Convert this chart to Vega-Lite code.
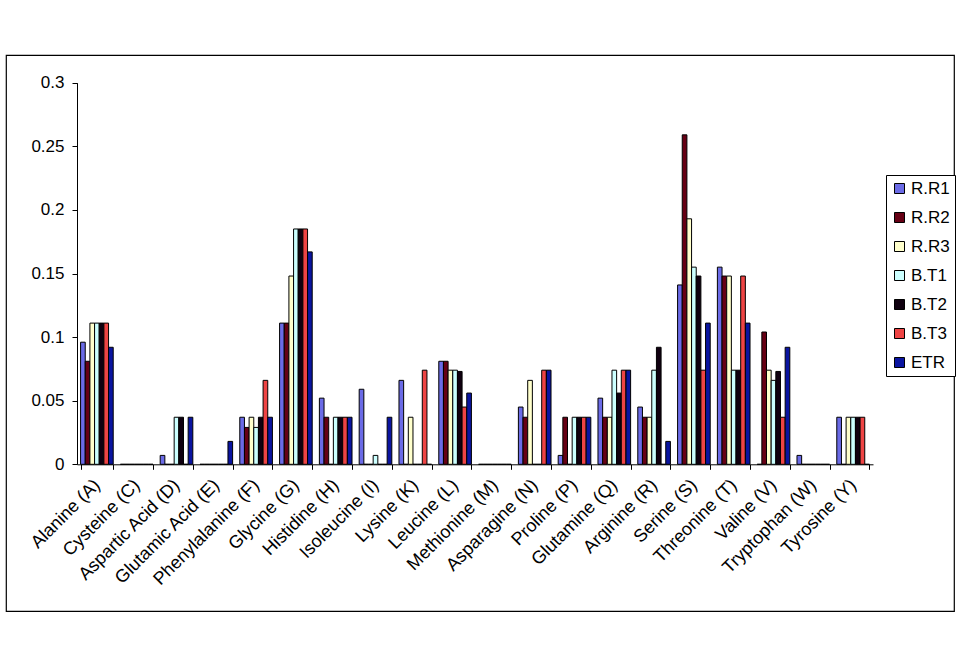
{
  "$schema": "https://vega.github.io/schema/vega-lite/v6.json",
  "autosize": "none",
  "width": 948,
  "height": 556,
  "padding": {"left": 6, "top": 55, "right": 8, "bottom": 56},
  "background": "white",
  "config": {
    "view": {"stroke": "black", "strokeWidth": 1.2},
    "font": "Liberation Sans",
    "axis": {"grid": false, "domainColor": "black", "tickColor": "black", "labelColor": "black", "labelFont": "Liberation Sans", "labelFontSize": 17, "tickSize": 5, "domainWidth": 1, "tickWidth": 1}
  },
  "data": {"values": [
    {"aa": "Alanine (A)", "s": "R.R1", "v": 0.096}, {"aa": "Alanine (A)", "s": "R.R2", "v": 0.081}, {"aa": "Alanine (A)", "s": "R.R3", "v": 0.111}, {"aa": "Alanine (A)", "s": "B.T1", "v": 0.111}, {"aa": "Alanine (A)", "s": "B.T2", "v": 0.111}, {"aa": "Alanine (A)", "s": "B.T3", "v": 0.111}, {"aa": "Alanine (A)", "s": "ETR", "v": 0.092},
    {"aa": "Cysteine (C)", "s": "R.R1", "v": 0}, {"aa": "Cysteine (C)", "s": "R.R2", "v": 0}, {"aa": "Cysteine (C)", "s": "R.R3", "v": 0}, {"aa": "Cysteine (C)", "s": "B.T1", "v": 0}, {"aa": "Cysteine (C)", "s": "B.T2", "v": 0}, {"aa": "Cysteine (C)", "s": "B.T3", "v": 0}, {"aa": "Cysteine (C)", "s": "ETR", "v": 0},
    {"aa": "Aspartic Acid (D)", "s": "R.R1", "v": 0.007}, {"aa": "Aspartic Acid (D)", "s": "R.R2", "v": 0}, {"aa": "Aspartic Acid (D)", "s": "R.R3", "v": 0}, {"aa": "Aspartic Acid (D)", "s": "B.T1", "v": 0.037}, {"aa": "Aspartic Acid (D)", "s": "B.T2", "v": 0.037}, {"aa": "Aspartic Acid (D)", "s": "B.T3", "v": 0}, {"aa": "Aspartic Acid (D)", "s": "ETR", "v": 0.037},
    {"aa": "Glutamic Acid (E)", "s": "R.R1", "v": 0}, {"aa": "Glutamic Acid (E)", "s": "R.R2", "v": 0}, {"aa": "Glutamic Acid (E)", "s": "R.R3", "v": 0}, {"aa": "Glutamic Acid (E)", "s": "B.T1", "v": 0}, {"aa": "Glutamic Acid (E)", "s": "B.T2", "v": 0}, {"aa": "Glutamic Acid (E)", "s": "B.T3", "v": 0}, {"aa": "Glutamic Acid (E)", "s": "ETR", "v": 0.018},
    {"aa": "Phenylalanine (F)", "s": "R.R1", "v": 0.037}, {"aa": "Phenylalanine (F)", "s": "R.R2", "v": 0.029}, {"aa": "Phenylalanine (F)", "s": "R.R3", "v": 0.037}, {"aa": "Phenylalanine (F)", "s": "B.T1", "v": 0.029}, {"aa": "Phenylalanine (F)", "s": "B.T2", "v": 0.037}, {"aa": "Phenylalanine (F)", "s": "B.T3", "v": 0.066}, {"aa": "Phenylalanine (F)", "s": "ETR", "v": 0.037},
    {"aa": "Glycine (G)", "s": "R.R1", "v": 0.111}, {"aa": "Glycine (G)", "s": "R.R2", "v": 0.111}, {"aa": "Glycine (G)", "s": "R.R3", "v": 0.148}, {"aa": "Glycine (G)", "s": "B.T1", "v": 0.185}, {"aa": "Glycine (G)", "s": "B.T2", "v": 0.185}, {"aa": "Glycine (G)", "s": "B.T3", "v": 0.185}, {"aa": "Glycine (G)", "s": "ETR", "v": 0.167},
    {"aa": "Histidine (H)", "s": "R.R1", "v": 0.052}, {"aa": "Histidine (H)", "s": "R.R2", "v": 0.037}, {"aa": "Histidine (H)", "s": "R.R3", "v": 0}, {"aa": "Histidine (H)", "s": "B.T1", "v": 0.037}, {"aa": "Histidine (H)", "s": "B.T2", "v": 0.037}, {"aa": "Histidine (H)", "s": "B.T3", "v": 0.037}, {"aa": "Histidine (H)", "s": "ETR", "v": 0.037},
    {"aa": "Isoleucine (I)", "s": "R.R1", "v": 0.059}, {"aa": "Isoleucine (I)", "s": "R.R2", "v": 0}, {"aa": "Isoleucine (I)", "s": "R.R3", "v": 0}, {"aa": "Isoleucine (I)", "s": "B.T1", "v": 0.007}, {"aa": "Isoleucine (I)", "s": "B.T2", "v": 0}, {"aa": "Isoleucine (I)", "s": "B.T3", "v": 0}, {"aa": "Isoleucine (I)", "s": "ETR", "v": 0.037},
    {"aa": "Lysine (K)", "s": "R.R1", "v": 0.066}, {"aa": "Lysine (K)", "s": "R.R2", "v": 0}, {"aa": "Lysine (K)", "s": "R.R3", "v": 0.037}, {"aa": "Lysine (K)", "s": "B.T1", "v": 0}, {"aa": "Lysine (K)", "s": "B.T2", "v": 0}, {"aa": "Lysine (K)", "s": "B.T3", "v": 0.074}, {"aa": "Lysine (K)", "s": "ETR", "v": 0},
    {"aa": "Leucine (L)", "s": "R.R1", "v": 0.081}, {"aa": "Leucine (L)", "s": "R.R2", "v": 0.081}, {"aa": "Leucine (L)", "s": "R.R3", "v": 0.074}, {"aa": "Leucine (L)", "s": "B.T1", "v": 0.074}, {"aa": "Leucine (L)", "s": "B.T2", "v": 0.073}, {"aa": "Leucine (L)", "s": "B.T3", "v": 0.045}, {"aa": "Leucine (L)", "s": "ETR", "v": 0.056},
    {"aa": "Methionine (M)", "s": "R.R1", "v": 0}, {"aa": "Methionine (M)", "s": "R.R2", "v": 0}, {"aa": "Methionine (M)", "s": "R.R3", "v": 0}, {"aa": "Methionine (M)", "s": "B.T1", "v": 0}, {"aa": "Methionine (M)", "s": "B.T2", "v": 0}, {"aa": "Methionine (M)", "s": "B.T3", "v": 0}, {"aa": "Methionine (M)", "s": "ETR", "v": 0},
    {"aa": "Asparagine (N)", "s": "R.R1", "v": 0.045}, {"aa": "Asparagine (N)", "s": "R.R2", "v": 0.037}, {"aa": "Asparagine (N)", "s": "R.R3", "v": 0.066}, {"aa": "Asparagine (N)", "s": "B.T1", "v": 0}, {"aa": "Asparagine (N)", "s": "B.T2", "v": 0}, {"aa": "Asparagine (N)", "s": "B.T3", "v": 0.074}, {"aa": "Asparagine (N)", "s": "ETR", "v": 0.074},
    {"aa": "Proline (P)", "s": "R.R1", "v": 0.007}, {"aa": "Proline (P)", "s": "R.R2", "v": 0.037}, {"aa": "Proline (P)", "s": "R.R3", "v": 0}, {"aa": "Proline (P)", "s": "B.T1", "v": 0.037}, {"aa": "Proline (P)", "s": "B.T2", "v": 0.037}, {"aa": "Proline (P)", "s": "B.T3", "v": 0.037}, {"aa": "Proline (P)", "s": "ETR", "v": 0.037},
    {"aa": "Glutamine (Q)", "s": "R.R1", "v": 0.052}, {"aa": "Glutamine (Q)", "s": "R.R2", "v": 0.037}, {"aa": "Glutamine (Q)", "s": "R.R3", "v": 0.037}, {"aa": "Glutamine (Q)", "s": "B.T1", "v": 0.074}, {"aa": "Glutamine (Q)", "s": "B.T2", "v": 0.056}, {"aa": "Glutamine (Q)", "s": "B.T3", "v": 0.074}, {"aa": "Glutamine (Q)", "s": "ETR", "v": 0.074},
    {"aa": "Arginine (R)", "s": "R.R1", "v": 0.045}, {"aa": "Arginine (R)", "s": "R.R2", "v": 0.037}, {"aa": "Arginine (R)", "s": "R.R3", "v": 0.037}, {"aa": "Arginine (R)", "s": "B.T1", "v": 0.074}, {"aa": "Arginine (R)", "s": "B.T2", "v": 0.092}, {"aa": "Arginine (R)", "s": "B.T3", "v": 0}, {"aa": "Arginine (R)", "s": "ETR", "v": 0.018},
    {"aa": "Serine (S)", "s": "R.R1", "v": 0.141}, {"aa": "Serine (S)", "s": "R.R2", "v": 0.259}, {"aa": "Serine (S)", "s": "R.R3", "v": 0.193}, {"aa": "Serine (S)", "s": "B.T1", "v": 0.155}, {"aa": "Serine (S)", "s": "B.T2", "v": 0.148}, {"aa": "Serine (S)", "s": "B.T3", "v": 0.074}, {"aa": "Serine (S)", "s": "ETR", "v": 0.111},
    {"aa": "Threonine (T)", "s": "R.R1", "v": 0.155}, {"aa": "Threonine (T)", "s": "R.R2", "v": 0.148}, {"aa": "Threonine (T)", "s": "R.R3", "v": 0.148}, {"aa": "Threonine (T)", "s": "B.T1", "v": 0.074}, {"aa": "Threonine (T)", "s": "B.T2", "v": 0.074}, {"aa": "Threonine (T)", "s": "B.T3", "v": 0.148}, {"aa": "Threonine (T)", "s": "ETR", "v": 0.111},
    {"aa": "Valine (V)", "s": "R.R1", "v": 0}, {"aa": "Valine (V)", "s": "R.R2", "v": 0.104}, {"aa": "Valine (V)", "s": "R.R3", "v": 0.074}, {"aa": "Valine (V)", "s": "B.T1", "v": 0.066}, {"aa": "Valine (V)", "s": "B.T2", "v": 0.073}, {"aa": "Valine (V)", "s": "B.T3", "v": 0.037}, {"aa": "Valine (V)", "s": "ETR", "v": 0.092},
    {"aa": "Tryptophan (W)", "s": "R.R1", "v": 0.007}, {"aa": "Tryptophan (W)", "s": "R.R2", "v": 0}, {"aa": "Tryptophan (W)", "s": "R.R3", "v": 0}, {"aa": "Tryptophan (W)", "s": "B.T1", "v": 0}, {"aa": "Tryptophan (W)", "s": "B.T2", "v": 0}, {"aa": "Tryptophan (W)", "s": "B.T3", "v": 0}, {"aa": "Tryptophan (W)", "s": "ETR", "v": 0},
    {"aa": "Tyrosine (Y)", "s": "R.R1", "v": 0.037}, {"aa": "Tyrosine (Y)", "s": "R.R2", "v": 0}, {"aa": "Tyrosine (Y)", "s": "R.R3", "v": 0.037}, {"aa": "Tyrosine (Y)", "s": "B.T1", "v": 0.037}, {"aa": "Tyrosine (Y)", "s": "B.T2", "v": 0.037}, {"aa": "Tyrosine (Y)", "s": "B.T3", "v": 0.037}, {"aa": "Tyrosine (Y)", "s": "ETR", "v": 0}
  ]},
  "mark": {"type": "bar", "stroke": "black", "strokeWidth": 1},
  "encoding": {
    "x": {
      "field": "aa", "type": "nominal", "sort": null, "title": null,
      "scale": {"range": [71, 867], "paddingInner": 0.18, "paddingOuter": 0.09},
      "axis": {"orient": "bottom", "offset": -146.7, "labelAngle": -45, "labelAlign": "right", "labelBaseline": "middle", "labelPadding": 13, "labelFontSize": 18, "tickBand": "extent", "labelLimit": 300}
    },
    "xOffset": {
      "field": "s", "type": "nominal",
      "sort": ["R.R1", "R.R2", "R.R3", "B.T1", "B.T2", "B.T3", "ETR"],
      "scale": {"paddingInner": 0, "paddingOuter": 0}
    },
    "y": {
      "field": "v", "type": "quantitative", "title": null,
      "scale": {"domain": [0, 0.3], "range": [409.3, 27.7], "nice": false, "zero": true},
      "axis": {"orient": "left", "offset": -71, "values": [0, 0.05, 0.1, 0.15, 0.2, 0.25, 0.3], "format": "~g", "labelPadding": 8}
    },
    "color": {
      "field": "s", "type": "nominal",
      "sort": ["R.R1", "R.R2", "R.R3", "B.T1", "B.T2", "B.T3", "ETR"],
      "scale": {"domain": ["R.R1", "R.R2", "R.R3", "B.T1", "B.T2", "B.T3", "ETR"], "range": ["#6B6BE6", "#660014", "#FFFFCC", "#CCFFFF", "#100010", "#EE4444", "#0A14A0"]},
      "legend": {
        "title": null, "orient": "none", "legendX": 880, "legendY": 120,
        "strokeColor": "black", "fillColor": "white", "padding": 5,
        "symbolType": "square", "symbolSize": 100, "symbolStrokeColor": "black", "symbolStrokeWidth": 1, "symbolOpacity": 1,
        "labelFontSize": 17, "labelColor": "black", "labelFont": "Liberation Sans", "labelOffset": 3,
        "rowPadding": 11
      }
    }
  }
}
